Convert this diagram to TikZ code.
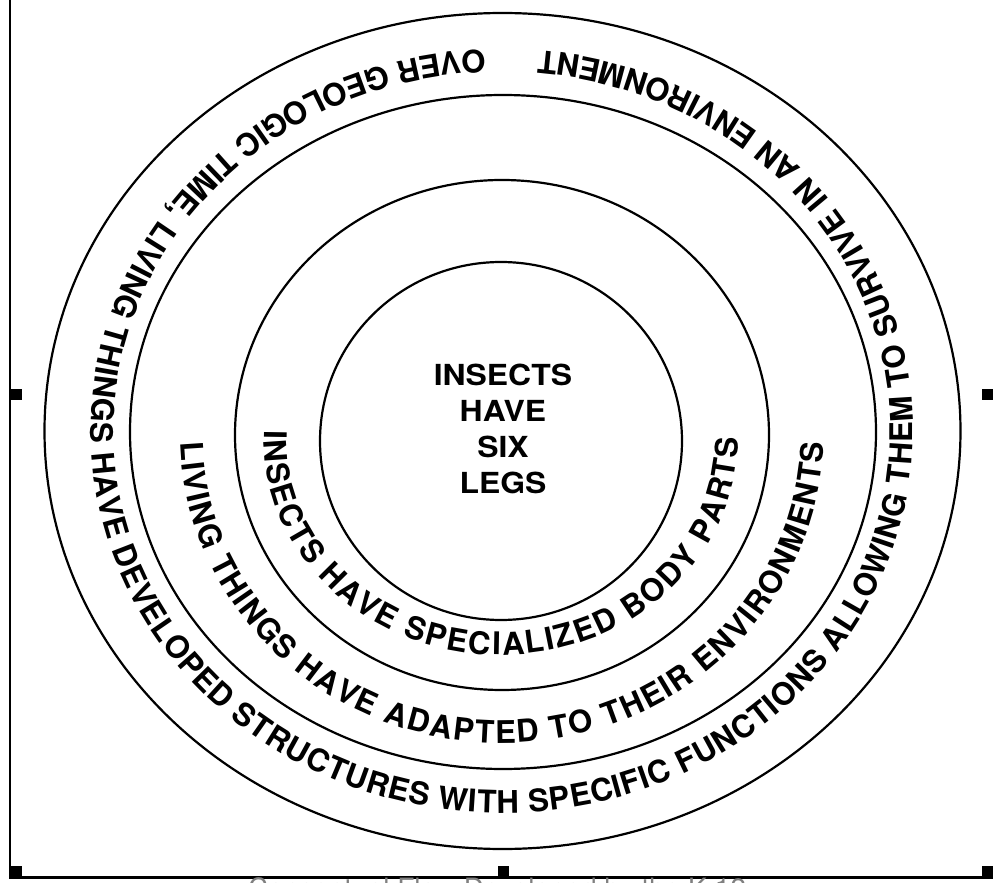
\documentclass[tikz,border=0pt]{standalone}
\usepackage{fontspec}
\setmainfont{TeX Gyre Heros}
\usetikzlibrary{decorations.text}
\tikzset{
  ring/.style={line width=1.1pt},
  handle/.style={fill=black},
  frameline/.style={line width=1.25pt},
  ringtext/.style={decorate, decoration={text along path, text align=fit to path, text={#1}}}
}
\newcommand{\rtf}{\bfseries\fontsize{15.6}{16}\selectfont}
\begin{document}
\begin{tikzpicture}[x=0.5pt,y=0.5pt]
\useasboundingbox (0,0) rectangle (993,-883);
\clip (0,0) rectangle (993,-883);
% rings
\draw[ring] (502.5,-431) ellipse [x radius=458, y radius=418];
\draw[ring] (503,-432) ellipse [x radius=373, y radius=337];
\draw[ring] (502,-435) ellipse [x radius=267, y radius=255];
\draw[ring] (501,-441) ellipse [x radius=181, y radius=179];
% center text
\node[font=\bfseries\fontsize{14.5}{18}\selectfont, align=center] (core) at (503,-429)
  {\scalebox{1.1}[1]{INSECTS}\\\scalebox{1.1}[1]{HAVE}\\\scalebox{1.1}[1]{SIX}\\\scalebox{1.1}[1]{LEGS}};
% ring texts
\path[ringtext={|\rtf|INSECTS HAVE SPECIALIZED BODY PARTS}]
  (501,-438) ++(178:237 and 217) arc[start angle=178, end angle=360, x radius=237, y radius=217];
\path[ringtext={|\rtf|LIVING THINGS HAVE ADAPTED TO THEIR ENVIRONMENTS}]
  (502,-432) ++(182:322 and 311) arc[start angle=182, end angle=358, x radius=322, y radius=311];
\path[ringtext={|\rtf|OVER GEOLOGIC TIME, LIVING THINGS HAVE DEVELOPED STRUCTURES WITH SPECIFIC FUNCTIONS ALLOWING THEM TO SURVIVE IN AN ENVIRONMENT}]
  (502,-431) ++(92.4:411 and 382) arc[start angle=92.4, end angle=444.7, x radius=411, y radius=382];
% frame
\draw[frameline] (10,0) -- (10,-877.5) -- (993,-877.5);
\fill[handle] (9,-389) rectangle (22,-400);
\fill[handle] (982,-389) rectangle (993,-400);
\fill[handle] (9,-866) rectangle (22,-877);
\fill[handle] (498,-866) rectangle (509,-877);
\fill[handle] (982,-866) rectangle (993,-877);
% cut-off credit line
\node[font=\fontsize{14}{14}\selectfont, text=gray, anchor=base, inner sep=0pt] (credit) at (497,-899) {Conceptual Flow Developed by the K-12};
\end{tikzpicture}
\end{document}
